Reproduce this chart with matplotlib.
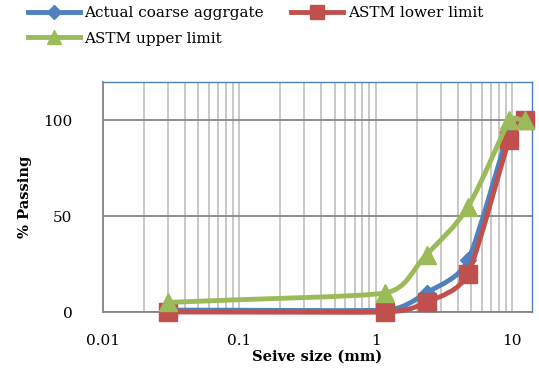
import numpy as np
import matplotlib.pyplot as plt
from matplotlib.path import Path
from matplotlib.patches import PathPatch
from matplotlib.lines import Line2D

# sieve sizes (mm) and percent passing
sieve_mm = [0.03, 1.18, 2.36, 4.75, 9.5, 12.5]
actual = [1, 1, 10, 27, 95, 100]
astm_lower = [0, 0, 5, 20, 90, 100]
astm_upper = [5, 10, 30, 55, 100, 100]

labels = ['Actual coarse aggrgate', 'ASTM lower limit', 'ASTM upper limit']
colors = ['#4F81BD', '#C0504D', '#9BBB59']
markers = ['D', 's', '^']

plt.rcParams['font.family'] = ['DejaVu Serif']


def smooth_path(ax, xs, ys, k=0.4):
    """Excel-like smoothed line: cubic bezier through points in display space"""
    pts = ax.transData.transform(np.column_stack([xs, ys]))
    n = len(pts)
    segs = [np.hypot(*(pts[i + 1] - pts[i])) for i in range(n - 1)]

    def tangent(i):
        a = pts[i - 1] if i > 0 else pts[i]
        b = pts[i + 1] if i + 1 < n else pts[i]
        d = b - a
        return d / np.hypot(*d)

    verts = [pts[0]]
    codes = [Path.MOVETO]
    for i in range(n - 1):
        p1, p2 = pts[i], pts[i + 1]
        l1 = min(segs[i], segs[i - 1]) if i > 0 else segs[i]
        l2 = min(segs[i], segs[i + 1]) if i + 1 < n - 1 else segs[i]
        c1 = p1 + tangent(i) * l1 * k
        c2 = p2 - tangent(i + 1) * l2 * k
        verts += [c1, c2, p2]
        codes += [Path.CURVE4] * 3
    return Path(np.array(verts), codes)


fig = plt.figure(figsize=(5.39, 3.75), dpi=100)
ax = fig.add_axes([0.191, 0.168, 0.796, 0.613])
ax.set_xscale('log')
ax.set_xlim(0.01, 14)
ax.set_ylim(0, 120)
ax.set_yticks([0, 50, 100])
ax.set_xticks([0.01, 0.1, 1, 10])
ax.set_xticklabels(['0.01', '0.1', '1', '10'])
ax.tick_params(axis='both', labelsize=11, length=0, colors='black')
ax.tick_params(axis='y', pad=22)
ax.tick_params(axis='x', pad=16)
ax.tick_params(axis='x', which='minor', length=0)
ax.minorticks_on()
ax.yaxis.set_minor_locator(plt.NullLocator())

ax.grid(True, axis='x', which='both', color='#BFBFBF', linewidth=1.2)
ax.grid(True, axis='y', which='major', color='#868686', linewidth=1.3)
ax.set_axisbelow(True)

for s in ['left', 'bottom']:
    ax.spines[s].set_color('#868686')
    ax.spines[s].set_linewidth(1.3)
for s in ['top', 'right']:
    ax.spines[s].set_color('#4F81BD')
    ax.spines[s].set_linewidth(1.0)

fig.canvas.draw()
handles = []
for ys, c, m in zip([actual, astm_lower, astm_upper], colors, markers):
    path = smooth_path(ax, sieve_mm, ys)
    ax.add_patch(PathPatch(path, facecolor='none', edgecolor=c, linewidth=3.5,
                           capstyle='round', joinstyle='round', clip_on=False,
                           transform=None, zorder=3))
    ms = 8 if m == 'D' else 12.5
    ax.plot(sieve_mm, ys, linestyle='none', marker=m, color=c, markersize=ms,
            clip_on=False, zorder=3)
    handles.append(Line2D([], [], color=c, linewidth=3.5, marker=m, markersize=ms * 0.85))

ax.set_xlabel('Seive size (mm)', fontsize=10.5, fontweight='bold', labelpad=1)
ax.set_ylabel('% Passing', fontsize=10.5, fontweight='bold', labelpad=8)

# column-major fill: put upper limit second so it lands on row 2
order = [0, 2, 1]
fig.legend([handles[i] for i in order], [labels[i] for i in order],
           loc='upper left', bbox_to_anchor=(0.04, 1.0), ncol=2,
           frameon=False, fontsize=11, handlelength=3.4, handletextpad=0.3,
           columnspacing=1.8, labelspacing=0.75, borderaxespad=0)

fig.savefig('out.png', dpi=100)
